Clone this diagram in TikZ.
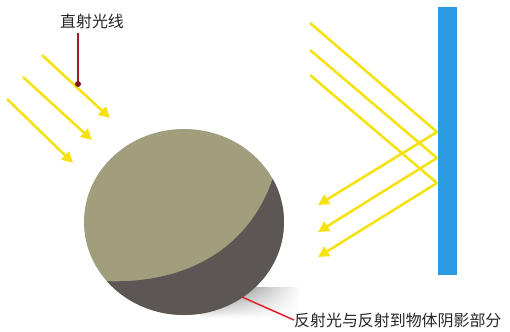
\documentclass[tikz,border=0pt]{standalone}
\usepackage{fontspec}
\newfontfamily\cjk{Noto Sans CJK SC}
\usepackage{tikz}
\usetikzlibrary{arrows.meta,fadings}

\definecolor{sunray}{RGB}{246,226,20}
\definecolor{ballgreen}{RGB}{160,158,124}
\definecolor{balldark}{RGB}{92,87,85}
\definecolor{mirrorblue}{RGB}{45,155,225}
\definecolor{pointred}{RGB}{222,32,40}
\definecolor{labelred}{RGB}{165,28,40}

\tikzset{
    ray/.style={draw=sunray, line width=2.6bp,
        -{Triangle[length=11bp,width=11bp]}},
    rayin/.style={draw=sunray, line width=2.6bp},
    tag/.style={font=\cjk\fontsize{16}{16}\selectfont, text=black!85,
        inner sep=0pt}
}

\begin{document}
\begin{tikzpicture}[x=1bp, y=-1bp]

            \useasboundingbox (0,0) rectangle (510,331);

            % soft cast shadow on the ground
            \shade[left color=black!65, right color=white, path fading=south]
                (200,287) rectangle (300,318);

            % the ball and its shadowed side
            \fill[ballgreen] (184,222) ellipse [x radius=100, y radius=93];
            \begin{scope}
                \clip (184,222) ellipse [x radius=100, y radius=93];
                \fill[balldark] (276,168) .. controls (255,245) and (190,285) .. (104,281)
                    -- (104,340) -- (300,340) -- (300,168) -- cycle;
            \end{scope}

            % mirror
            \fill[mirrorblue] (438,7) rectangle (457,275);

            % incoming light
            \coordinate (a1) at (42,55);   \coordinate (b1) at (110,118);
            \coordinate (a2) at (23,77);   \coordinate (b2) at (92,140);
            \coordinate (a3) at (7,99);    \coordinate (b3) at (73,163);
            \draw[ray] (a1) -- (b1);
            \draw[ray] (a2) -- (b2);
            \draw[ray] (a3) -- (b3);

            % reflected light
            \coordinate (s1) at (310,23);  \coordinate (h1) at (437,132);  \coordinate (e1) at (318,205);
            \coordinate (s2) at (310,50);  \coordinate (h2) at (437,158);  \coordinate (e2) at (318,232);
            \coordinate (s3) at (310,75);  \coordinate (h3) at (437,183);  \coordinate (e3) at (318,257);
            \draw[rayin] (s1) -- (h1);
            \draw[rayin] (s2) -- (h2);
            \draw[rayin] (s3) -- (h3);
            \draw[ray] (h1) -- (e1);
            \draw[ray] (h2) -- (e2);
            \draw[ray] (h3) -- (e3);

            % labels
            \node[tag] (direct) at (92,21) {直射光线};
            \coordinate (hit) at (78,84);
            \draw[labelred, line width=2bp] (direct.south -| hit) ++(0,4) -- (hit);
            \fill[labelred!80!black] (hit) circle (3bp);

            \node[tag, anchor=west] (reflect) at (294,320) {反射光与反射到物体阴影部分};
            \coordinate (dark) at (242,297);
            \draw[pointred, line width=1.5bp] (dark) -- (reflect.west);

\end{tikzpicture}
\end{document}
